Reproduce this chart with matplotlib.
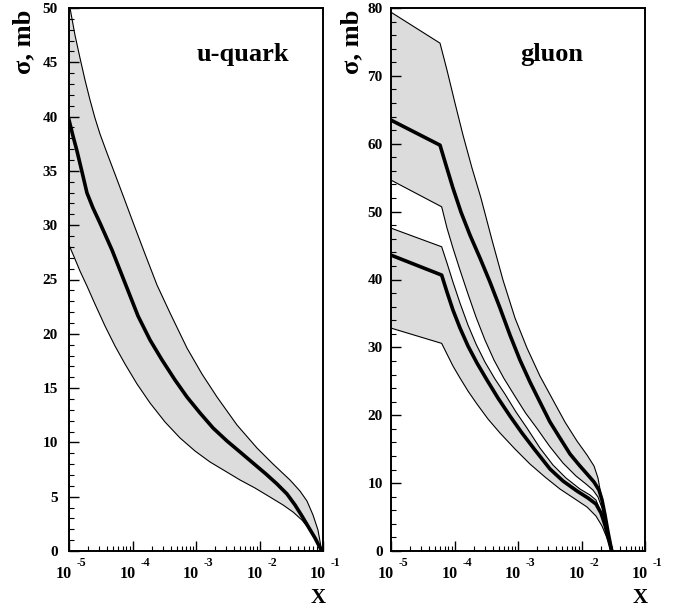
import numpy as np
import matplotlib
matplotlib.use("Agg")
import matplotlib.pyplot as plt
import matplotlib.transforms as mtransforms

plt.rcParams['font.family'] = ['Liberation Serif', 'DejaVu Serif']
plt.rcParams['font.weight'] = 'bold'

# x values are given as log10(x)

# ---- u-quark ----
uq_up_lx = [-4.984, -4.906, -4.827, -4.748, -4.669, -4.591, -4.512, -4.402, -4.276, -4.134,
            -3.976, -3.803, -3.614, -3.409, -3.142, -2.906, -2.669, -2.354, -2.039, -1.787,
            -1.520, -1.362, -1.252, -1.157, -1.079, -1.02]
uq_up_y = [50.0, 47.51, 45.40, 43.37, 41.53, 39.87, 38.40, 36.65, 34.71, 32.50,
           30.02, 27.35, 24.49, 21.92, 18.69, 16.30, 14.18, 11.60, 9.48, 8.01,
           6.54, 5.52, 4.60, 3.31, 1.93, 0.0]
uq_mid_lx = [-5.0, -4.937, -4.874, -4.795, -4.717, -4.622, -4.512, -4.323, -4.118, -3.913,
             -3.724, -3.535, -3.331, -3.142, -2.937, -2.732, -2.512, -2.307, -2.102, -1.898,
             -1.724, -1.567, -1.441, -1.331, -1.220, -1.126, -1.02]
uq_mid_y = [39.69, 38.21, 36.83, 34.90, 32.97, 31.58, 30.20, 27.72, 24.68, 21.64,
            19.43, 17.59, 15.75, 14.18, 12.71, 11.33, 10.13, 9.12, 8.10, 7.09,
            6.17, 5.25, 4.24, 3.22, 2.12, 1.20, 0.0]
uq_lo_lx = [-5.0, -4.906, -4.827, -4.717, -4.591, -4.433, -4.276, -4.118, -3.929, -3.724,
            -3.488, -3.252, -3.016, -2.780, -2.543, -2.307, -2.071, -1.835, -1.630, -1.472,
            -1.331, -1.205, -1.110, -1.02]
uq_lo_y = [28.18, 26.89, 25.78, 24.40, 22.74, 20.72, 18.88, 17.22, 15.38, 13.63,
           11.88, 10.41, 9.21, 8.20, 7.37, 6.54, 5.80, 4.97, 4.24, 3.59,
           2.85, 1.93, 1.10, 0.0]

# ---- gluon, upper band ----
gu_up_lx = [-5.0, -4.228, -4.118, -3.992, -3.866, -3.724, -3.583, -3.409, -3.236, -3.047,
            -2.858, -2.654, -2.449, -2.260, -2.071, -1.913, -1.803, -1.740, -1.693, -1.646,
            -1.583, -1.524]
gu_up_y = [79.38, 74.82, 70.84, 65.98, 61.27, 56.41, 51.99, 45.80, 39.91, 34.32,
           29.90, 25.77, 22.24, 19.00, 16.20, 14.14, 12.52, 10.75, 8.25, 5.74,
           2.80, 0.0]
gu_mid_lx = [-5.0, -4.228, -4.134, -4.024, -3.898, -3.756, -3.598, -3.441, -3.283, -3.126,
             -2.969, -2.811, -2.654, -2.496, -2.339, -2.181, -2.024, -1.898, -1.803, -1.724,
             -1.677, -1.630, -1.583, -1.524]
gu_mid_y = [63.48, 59.79, 56.85, 53.46, 49.93, 46.54, 43.15, 39.62, 35.79, 31.81,
            28.13, 24.89, 21.94, 19.00, 16.64, 14.29, 12.52, 11.19, 10.16, 8.98,
            7.51, 5.30, 2.80, 0.0]
gu_lo_lx = [-5.0, -4.202, -4.118, -4.024, -3.913, -3.787, -3.661, -3.520, -3.378, -3.225,
            -3.050, -2.880, -2.705, -2.505, -2.291, -2.087, -1.929, -1.819, -1.740, -1.677,
            -1.614, -1.567, -1.524]
gu_lo_y = [54.64, 50.71, 47.57, 44.62, 41.38, 37.85, 34.46, 31.08, 28.13, 25.48,
           22.83, 20.32, 18.11, 15.46, 12.96, 11.05, 9.87, 8.98, 7.95, 6.33,
           3.83, 1.91, 0.0]

# ---- gluon, lower band ----
gl_up_lx = [-5.0, -4.202, -4.118, -4.024, -3.913, -3.787, -3.661, -3.520, -3.362, -3.205,
            -3.031, -2.858, -2.654, -2.449, -2.244, -2.024, -1.866, -1.772, -1.709, -1.646,
            -1.583, -1.524]
gl_up_y = [47.57, 44.82, 42.42, 39.62, 36.52, 33.28, 30.49, 27.84, 25.33, 23.12,
           20.47, 18.11, 15.17, 12.67, 10.75, 9.13, 8.25, 7.51, 6.04, 4.27,
           2.06, 0.0]
gl_mid_lx = [-5.0, -4.202, -4.118, -4.024, -3.913, -3.787, -3.646, -3.488, -3.315, -3.126,
             -2.937, -2.732, -2.496, -2.291, -2.071, -1.898, -1.772, -1.693, -1.630, -1.583,
             -1.524]
gl_mid_y = [43.59, 40.65, 38.14, 35.49, 32.84, 30.19, 27.69, 25.18, 22.53, 19.88,
            17.38, 14.87, 12.08, 10.31, 8.84, 7.81, 6.92, 5.60, 3.83, 2.06,
            0.0]
gl_lo_lx = [-5.0, -4.202, -4.118, -4.024, -3.913, -3.787, -3.646, -3.472, -3.283, -3.047,
            -2.811, -2.575, -2.339, -2.102, -1.913, -1.772, -1.677, -1.598, -1.524]
gl_lo_y = [32.84, 30.59, 29.01, 27.25, 25.48, 23.56, 21.65, 19.44, 17.38, 15.02,
           12.81, 10.90, 9.13, 7.66, 6.48, 5.15, 3.68, 1.91, 0.0]

decades = [-5, -4, -3, -2, -1]

band_color = '#dcdcdc'


def band(ax, up_lx, up_y, lo_lx, lo_y, mid_lx, mid_y):
    up_x = 10.0 ** np.array(up_lx)
    lo_x = 10.0 ** np.array(lo_lx)
    mid_x = 10.0 ** np.array(mid_lx)
    poly_x = np.concatenate([up_x, lo_x[::-1]])
    poly_y = np.concatenate([up_y, lo_y[::-1]])
    ax.fill(poly_x, poly_y, color=band_color, lw=0, zorder=1)
    ax.plot(up_x, up_y, color='black', lw=0.8, zorder=2)
    ax.plot(lo_x, lo_y, color='black', lw=0.8, zorder=2)
    ax.plot(mid_x, mid_y, color='black', lw=2.6, zorder=3, solid_joinstyle='round')


def style(ax, ymax, ystep, yminor, ypad):
    ax.set_xscale('log')
    ax.set_xlim(1e-5, 1e-1)
    ax.set_ylim(0, ymax)
    ax.set_yticks(np.arange(0, ymax + 0.1, ystep))
    ax.set_yticks(np.arange(0, ymax + 0.1, yminor), minor=True)
    ax.set_xticks([10.0 ** d for d in decades])
    ax.set_xticklabels([])
    minors = [m * 10.0 ** d for d in decades[:-1] for m in range(2, 10)]
    ax.set_xticks(minors, minor=True)
    ax.xaxis.set_minor_formatter(matplotlib.ticker.NullFormatter())
    ax.tick_params(which='both', direction='in', top=False, right=False)
    ax.tick_params(which='major', length=7, width=1.0)
    ax.tick_params(which='minor', length=3.6, width=0.8)
    ax.tick_params(axis='y', labelsize=11, pad=ypad)
    for lab in ax.get_yticklabels():
        lab.set_fontweight('bold')
    for sp in ax.spines.values():
        sp.set_linewidth(1.4)
    # decade labels drawn as "10" with a raised exponent
    fig = ax.figure
    tr = mtransforms.blended_transform_factory(ax.transData, ax.transAxes)
    for d in decades:
        t10 = tr + mtransforms.ScaledTranslation(3 / 100, -23 / 100, fig.dpi_scale_trans)
        ax.text(10.0 ** d, 0, '10', transform=t10, ha='right', va='center',
                fontsize=11.5, fontweight='bold')
        tex = tr + mtransforms.ScaledTranslation(8 / 100, -12 / 100, fig.dpi_scale_trans)
        ax.text(10.0 ** d, 0, str(d), transform=tex, ha='left', va='center',
                fontsize=8.5, fontweight='bold')
    txl = ax.transAxes + mtransforms.ScaledTranslation(-5 / 100, -47 / 100, fig.dpi_scale_trans)
    ax.text(1, 0, 'X', transform=txl, ha='center', va='center', fontsize=15, fontweight='bold')


fig = plt.figure(figsize=(6.88, 6.09), dpi=100)
ax1 = fig.add_axes([69 / 688, 58 / 609, 254 / 688, 543 / 609])
ax2 = fig.add_axes([391 / 688, 58 / 609, 254 / 688, 543 / 609])

band(ax1, uq_up_lx, uq_up_y, uq_lo_lx, uq_lo_y, uq_mid_lx, uq_mid_y)
style(ax1, 50, 5, 1, 8)
ax1.text(0.685, 0.915, 'u-quark', transform=ax1.transAxes, ha='center', va='center',
         fontsize=19, fontweight='bold')

band(ax2, gu_up_lx, gu_up_y, gu_lo_lx, gu_lo_y, gu_mid_lx, gu_mid_y)
band(ax2, gl_up_lx, gl_up_y, gl_lo_lx, gl_lo_y, gl_mid_lx, gl_mid_y)
style(ax2, 80, 10, 2, 6)
ax2.text(0.634, 0.915, 'gluon', transform=ax2.transAxes, ha='center', va='center',
         fontsize=19, fontweight='bold')

fig.text(24 / 688, 1 - 42 / 609, 'σ, mb', rotation=90, ha='center', va='center',
         fontsize=19, fontweight='bold')
fig.text(352 / 688, 1 - 42 / 609, 'σ, mb', rotation=90, ha='center', va='center',
         fontsize=19, fontweight='bold')

fig.savefig('out.png', dpi=100)
